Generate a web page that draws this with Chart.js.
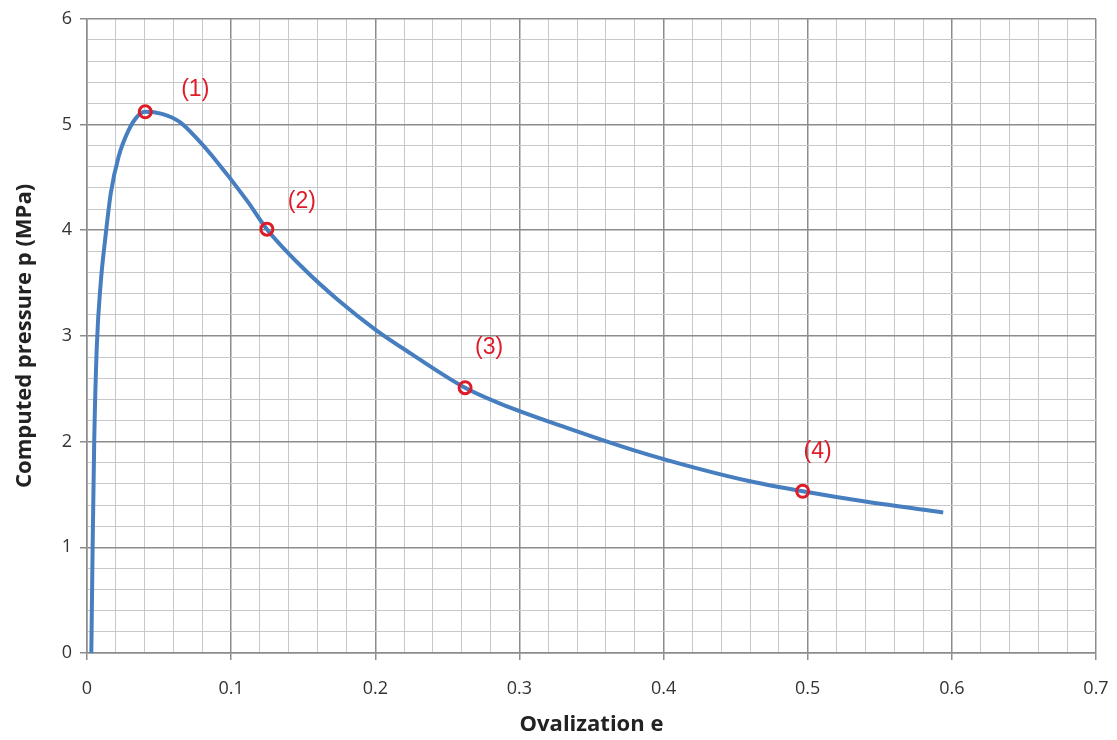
<!DOCTYPE html>
<html lang="en">
<head>
  <meta charset="UTF-8" />
  <title>Computed pressure vs ovalization</title>
  <script src="https://cdn.jsdelivr.net/npm/chart.js"></script>
  <style>
    body, html {
      margin: 0;
      background: #fff;
    }
    #wrap {
      width: 1117px;
      height: 740px;
    }
  </style>
</head>
<body>
  <div id="wrap"><canvas id="pressureChart" width="1117" height="740"></canvas></div>

  <script>
    // curve
    const ovalization = [0.003, 0.0039, 0.005, 0.0068, 0.0095, 0.0125, 0.0165, 0.022, 0.029, 0.0345, 0.0404,
      0.052, 0.0647, 0.076, 0.0876, 0.111, 0.1248, 0.15, 0.175, 0.2, 0.225, 0.2623, 0.2866,
      0.333, 0.379, 0.4253, 0.46, 0.4965, 0.541, 0.594];
    const pressure = [0, 1.0, 2.0, 2.9, 3.5, 3.9, 4.35, 4.7, 4.95, 5.07, 5.12,
      5.1, 5.02, 4.87, 4.69, 4.28, 4.01, 3.64, 3.33, 3.06, 2.83, 2.51, 2.36,
      2.13, 1.92, 1.74, 1.625, 1.53, 1.43, 1.33];

    // marked states
    const markE = [0.0404, 0.1248, 0.2623, 0.4965];
    const markP = [5.12, 4.01, 2.51, 1.53];
    const markLabels = ['(1)', '(2)', '(3)', '(4)'];

    const red = 'rgb(222, 28, 40)';
    const majorGrid = '#8c8c8c';
    const minorGrid = '#c8c8c8';
    const font = '"Open Sans", Lato, sans-serif';

    const isMultiple = (v, step) => Math.abs(v / step - Math.round(v / step)) < 1e-6;

    // "(n)" text next to each marked point
    const labelOffsets = [[50, -22], [35, -27], [24, -40], [15, -40]];
    const pointLabels = {
      id: 'pointLabels',
      afterDatasetsDraw(chart) {
        const { ctx, scales: { x, y } } = chart;
        ctx.save();
        ctx.font = '23px "Liberation Sans", Arial, sans-serif';
        ctx.fillStyle = red;
        ctx.textAlign = 'center';
        ctx.textBaseline = 'middle';
        markLabels.forEach((txt, i) => {
          const px = x.getPixelForValue(markE[i]) + labelOffsets[i][0];
          const py = y.getPixelForValue(markP[i]) + labelOffsets[i][1];
          ctx.fillText(txt, px, py);
        });
        ctx.restore();
      }
    };

    const ctx = document.getElementById('pressureChart').getContext('2d');
    new Chart(ctx, {
      type: 'scatter',
      data: {
        datasets: [
          {
            data: markE.map((e, i) => ({ x: e, y: markP[i] })),
            showLine: false,
            pointRadius: 6,
            pointBorderWidth: 3,
            pointBorderColor: red,
            pointBackgroundColor: 'rgba(255,255,255,0)',
            order: 0
          },
          {
            data: ovalization.map((e, i) => ({ x: e, y: pressure[i] })),
            showLine: true,
            borderColor: 'rgb(70, 126, 192)',
            borderWidth: 4,
            pointRadius: 0,
            cubicInterpolationMode: 'monotone',
            order: 1
          }
        ]
      },
      options: {
        responsive: false,
        animation: false,
        layout: { padding: { top: 18, right: 21, left: 0, bottom: 0 } },
        plugins: {
          legend: { display: false },
          tooltip: { enabled: false }
        },
        scales: {
          x: {
            type: 'linear',
            min: 0,
            max: 0.7,
            afterFit: s => { s.height = 87; s.paddingRight = 0; s.paddingLeft = 0; },
            ticks: {
              stepSize: 0.02,
              autoSkip: false,
              maxRotation: 0,
              padding: 18,
              color: '#333',
              font: { family: font, size: 18 },
              callback: v => isMultiple(v, 0.1) ? (Math.round(v * 10) / 10).toString() : ''
            },
            grid: {
              color: c => isMultiple(c.tick.value, 0.1) ? majorGrid : minorGrid,
              lineWidth: c => isMultiple(c.tick.value, 0.1) ? 1.5 : 1,
              tickColor: c => isMultiple(c.tick.value, 0.1) ? majorGrid : 'rgba(0,0,0,0)',
              tickLength: 7
            },
            border: { color: majorGrid, width: 1.5 },
            title: {
              display: true,
              text: 'Ovalization e',
              color: '#222',
              font: { family: font, size: 22, weight: 'bold' },
              padding: { top: 0, bottom: 2 }
            }
          },
          y: {
            min: 0,
            max: 6,
            afterFit: s => { s.width = 87; },
            ticks: {
              stepSize: 0.2,
              autoSkip: false,
              padding: 8,
              color: '#333',
              font: { family: font, size: 18 },
              callback: v => isMultiple(v, 1) ? Math.round(v).toString() : ''
            },
            grid: {
              color: c => isMultiple(c.tick.value, 1) ? majorGrid : minorGrid,
              lineWidth: c => isMultiple(c.tick.value, 1) ? 1.5 : 1,
              tickColor: c => isMultiple(c.tick.value, 1) ? majorGrid : 'rgba(0,0,0,0)',
              tickLength: 7
            },
            border: { color: majorGrid, width: 1.5 },
            title: {
              display: true,
              text: 'Computed pressure p (MPa)',
              color: '#222',
              font: { family: font, size: 22, weight: 'bold' },
              padding: { top: 12, bottom: 0 }
            }
          }
        }
      },
      plugins: [pointLabels]
    });
  </script>
</body>
</html>
